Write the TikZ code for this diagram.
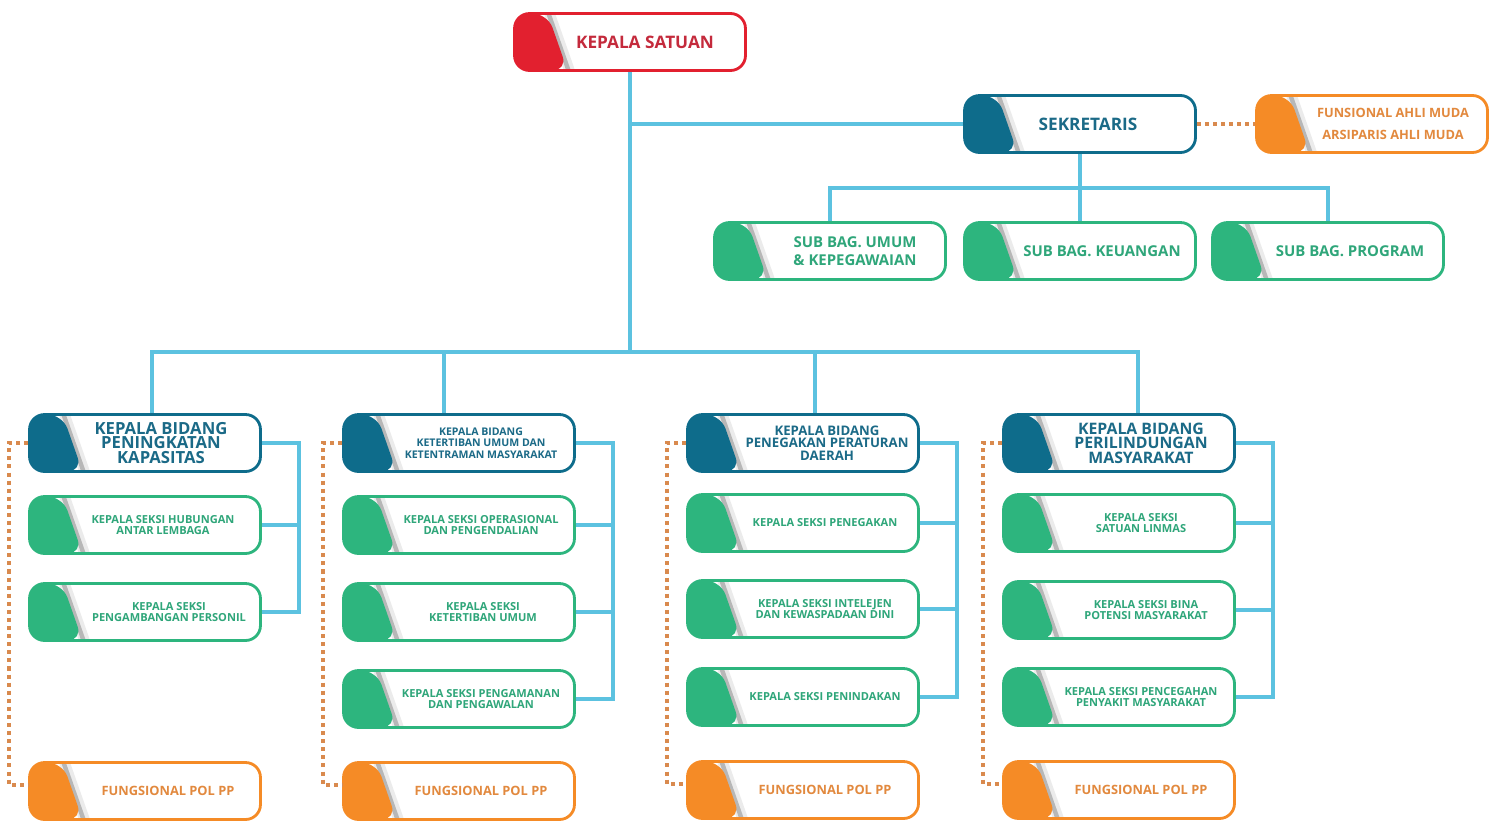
\documentclass[tikz,border=0pt]{standalone}
\usepackage{fontspec}
\setmainfont{Open Sans}
\usetikzlibrary{calc}

\definecolor{merah}{HTML}{E2202F}
\definecolor{merahteks}{HTML}{C42A3C}
\definecolor{birutua}{HTML}{0E6C8B}
\definecolor{birutuateks}{HTML}{1B6A87}
\definecolor{hijau}{HTML}{2DB57E}
\definecolor{hijauteks}{HTML}{2FA67A}
\definecolor{oranye}{HTML}{F58B26}
\definecolor{oranyeteks}{HTML}{E2893E}
\definecolor{garis}{HTML}{5CC2E0}
\definecolor{titik}{HTML}{D98A4E}

\tikzset{
  kotak/.style={draw=#1, line width=1.6pt, fill=white, rounded corners=0.3cm,
    minimum width=4.62cm, minimum height=1.14cm, inner sep=0pt,
    path picture={
      \draw[black, opacity=0.08, line width=6pt]
        ([xshift=0.70cm]path picture bounding box.north west)
        -- ([xshift=1.10cm]path picture bounding box.south west);
      \draw[black, opacity=0.22, line width=2.5pt]
        ([xshift=0.68cm]path picture bounding box.north west)
        -- ([xshift=1.08cm]path picture bounding box.south west);
      \fill[#1] (path picture bounding box.south west)
        -- (path picture bounding box.north west)
        -- ([xshift=0.66cm]path picture bounding box.north west)
        -- ([xshift=1.06cm]path picture bounding box.south west) -- cycle;
    }},
  teks/.style={text=#1teks, align=center, inner sep=0pt},
  besar/.style={font=\bfseries\fontsize{9.8}{10}\selectfont},
  sedang/.style={font=\bfseries\fontsize{8.5}{10}\selectfont},
  jfa/.style={font=\bfseries\fontsize{7.3}{12.5}\selectfont},
  bidA/.style={font=\bfseries\fontsize{9.5}{8.3}\selectfont},
  bidB/.style={font=\bfseries\fontsize{6}{6.6}\selectfont},
  bidC/.style={font=\bfseries\fontsize{7.5}{7.2}\selectfont},
  bidD/.style={font=\bfseries\fontsize{9}{8.3}\selectfont},
  kecil/.style={font=\bfseries\fontsize{6.3}{6.4}\selectfont},
  fungsi/.style={font=\bfseries\fontsize{7.3}{8}\selectfont},
  hubung/.style={draw=garis, line width=2pt},
  putus/.style={draw=titik, line width=2pt, dash pattern=on 2.3pt off 2.3pt},
}

% [geser teks]{nama}{posisi}{warna}{huruf}{isi}
\newcommand{\kotakorg}[6][22]{%
  \node[kotak=#4] (#2) at (#3) {};
  \node[teks=#4, #5] (#2-teks) at ($(#2.center)+(#1,0)$) {#6};
}

\begin{document}
\begin{tikzpicture}[x=0.02cm, y=-0.02cm]
\useasboundingbox (0,0) rectangle (1500,822);

% pimpinan dan sekretariat
\kotakorg[15]{ks}{630,42}{merah}{besar}{KEPALA SATUAN}
\kotakorg[8]{sg}{1080,124}{birutua}{besar}{SEKRETARIS}
\kotakorg[21]{fam}{1372,124}{oranye}{jfa}{FUNSIONAL AHLI MUDA\\ARSIPARIS AHLI MUDA}
\kotakorg[25]{sb1}{830,251}{hijau}{sedang}{SUB BAG. UMUM\\\& KEPEGAWAIAN}
\kotakorg{sb2}{1080,251}{hijau}{sedang}{SUB BAG. KEUANGAN}
\kotakorg{sb3}{1328,251}{hijau}{sedang}{SUB BAG. PROGRAM}

% bidang
\kotakorg[16]{bid1}{145,443}{birutua}{bidA}{KEPALA BIDANG\\PENINGKATAN\\KAPASITAS}
\kotakorg{bid2}{459,443}{birutua}{bidB}{KEPALA BIDANG\\KETERTIBAN UMUM DAN\\KETENTRAMAN MASYARAKAT}
\kotakorg[24]{bid3}{803,443}{birutua}{bidC}{KEPALA BIDANG\\PENEGAKAN PERATURAN\\DAERAH}
\kotakorg{bid4}{1119,443}{birutua}{bidD}{KEPALA BIDANG\\PERILINDUNGAN\\MASYARAKAT}

% seksi
\kotakorg[18]{s11}{145,525}{hijau}{kecil}{KEPALA SEKSI HUBUNGAN\\ANTAR LEMBAGA}
\kotakorg[24]{s12}{145,612}{hijau}{kecil}{KEPALA SEKSI\\PENGAMBANGAN PERSONIL}
\kotakorg{s21}{459,525}{hijau}{kecil}{KEPALA SEKSI OPERASIONAL\\DAN PENGENDALIAN}
\kotakorg[24]{s22}{459,612}{hijau}{kecil}{KEPALA SEKSI\\KETERTIBAN UMUM}
\kotakorg{s23}{459,699}{hijau}{kecil}{KEPALA SEKSI PENGAMANAN\\DAN PENGAWALAN}
\kotakorg{s31}{803,523}{hijau}{kecil}{KEPALA SEKSI PENEGAKAN}
\kotakorg{s32}{803,609}{hijau}{kecil}{KEPALA SEKSI INTELEJEN\\DAN KEWASPADAAN DINI}
\kotakorg{s33}{803,697}{hijau}{kecil}{KEPALA SEKSI PENINDAKAN}
\kotakorg{s41}{1119,523}{hijau}{kecil}{KEPALA SEKSI\\SATUAN LINMAS}
\kotakorg[27]{s42}{1119,610}{hijau}{kecil}{KEPALA SEKSI BINA\\POTENSI MASYARAKAT}
\kotakorg{s43}{1119,697}{hijau}{kecil}{KEPALA SEKSI PENCEGAHAN\\PENYAKIT MASYARAKAT}

% fungsional
\kotakorg[23]{fung1}{145,791}{oranye}{fungsi}{FUNGSIONAL POL PP}
\kotakorg{fung2}{459,791}{oranye}{fungsi}{FUNGSIONAL POL PP}
\kotakorg{fung3}{803,790}{oranye}{fungsi}{FUNGSIONAL POL PP}
\kotakorg{fung4}{1119,790}{oranye}{fungsi}{FUNGSIONAL POL PP}

% garis komando
\coordinate (bar) at (630,352);
\draw[hubung] (ks.south) -- (bar);
\draw[hubung] (ks.south |- sg.west) -- (sg.west);
\foreach \b/\dx in {bid1/7,bid2/-15,bid3/12,bid4/19}
  \draw[hubung] ($(\b.north)+(\dx,0)$) |- (bar);

\coordinate (sbar) at (1080,188);
\draw[hubung] (sg.south) -- (sbar);
\foreach \s in {sb1,sb2,sb3}
  \draw[hubung] (\s.north) |- (sbar);

\foreach \k/\akhir in {1/s12,2/s23,3/s33,4/s43}
  \draw[hubung] (bid\k.east) -- ++(37,0) |- (\akhir.east);
\foreach \s in {s11,s21,s22,s31,s32,s41,s42}
  \draw[hubung] (\s.east) -- ++(37,0);

% garis koordinasi
\draw[putus] (sg.east) -- (fam.west);
\foreach \k in {1,...,4}
  \draw[putus] (bid\k.west) -| ($(fung\k.west)+(-19,-6)$) -- ($(fung\k.west)+(0,-6)$);
\end{tikzpicture}
\end{document}
